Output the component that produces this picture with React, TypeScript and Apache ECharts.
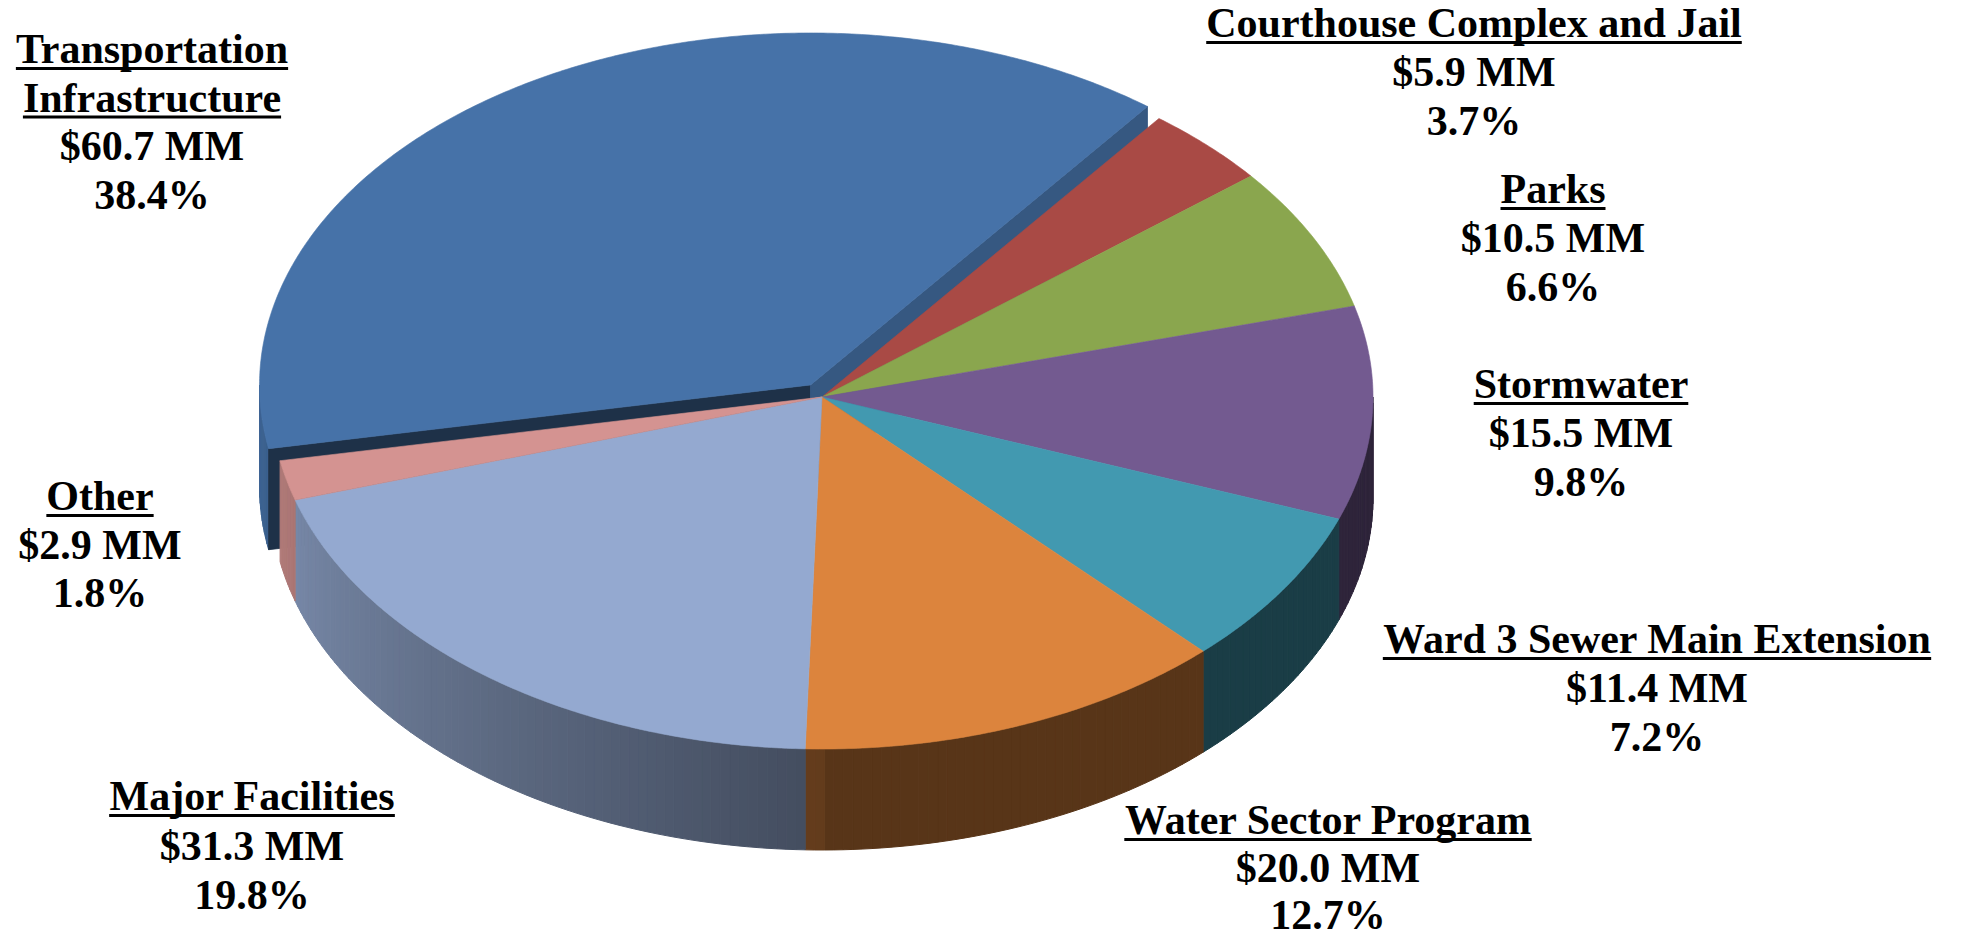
import React, { useEffect, useRef } from 'react';
import * as echarts from 'echarts';

// ---------- data ----------
const CATEGORIES = [
  'Courthouse Complex and Jail',
  'Parks',
  'Stormwater',
  'Ward 3 Sewer Main Extension',
  'Water Sector Program',
  'Major Facilities',
  'Other',
  'Transportation\nInfrastructure',
];
const VALUES_MM = [5.9, 10.5, 15.5, 11.4, 20.0, 31.3, 2.9, 60.7];
const PERCENT_LABELS = ['3.7%', '6.6%', '9.8%', '7.2%', '12.7%', '19.8%', '1.8%', '38.4%'];
const EXPLODED_INDEX = 7;

// ---------- styles ----------
const TOP_COLORS = ['#A94A45', '#8AA64E', '#735A90', '#4299B0', '#DC843D', '#94A9D0', '#D49391', '#4672A8'];
const FONT_FAMILY = '"Liberation Serif", "Times New Roman", serif';
const FONT_SIZE = 42;

// ---------- layout ----------
const W = 1961;
const H = 938;
const CX = 822;
const CY = 397;
const RX = 551;
const RY = 352;
const DEPTH = 101;
const START_DEG = 37.7;
const EXPLODE = 0.04;
// [center x, first baseline, line gap]
const LABEL_POS = [
  [1474, 37, 49],
  [1553, 203, 49],
  [1581, 398, 49],
  [1657, 653, 49],
  [1328, 834, 47.5],
  [252, 810, 49.5],
  [100, 510, 48.5],
  [152, 63, 48.5],
];

const TOTAL = VALUES_MM.reduce((a, b) => a + b, 0);
const CUM: number[] = [];
VALUES_MM.reduce((acc, v, i) => {
  CUM[i] = acc;
  return acc + v;
}, 0);

const rad = (d: number) => (d * Math.PI) / 180;

function pt(theta: number, dz: number, off: number[]) {
  return [CX + RX * Math.sin(rad(theta)) + off[0], CY - RY * Math.cos(rad(theta)) + dz + off[1]];
}

function shade(hex: string, f: number) {
  const n = parseInt(hex.slice(1), 16);
  const r = Math.round(((n >> 16) & 255) * f);
  const g = Math.round(((n >> 8) & 255) * f);
  const b = Math.round((n & 255) * f);
  return `rgb(${r},${g},${b})`;
}

function wallFactor(theta: number) {
  const t = ((theta % 360) + 360) % 360;
  if (t <= 180) return 0.4;
  return 0.45 + 0.36 * Math.min((t - 180) / 75, 1.2);
}

function renderItem(params: any, api: any) {
  const i = params.dataIndex;
  const v = api.value(0);
  const s = START_DEG + (360 * CUM[i]) / TOTAL;
  const e = s + (360 * v) / TOTAL;
  const color = TOP_COLORS[i];
  let off = [0, 0];
  if (i === EXPLODED_INDEX) {
    const mid = (s + e) / 2;
    off = [Math.sin(rad(mid)) * EXPLODE * RX, -Math.cos(rad(mid)) * EXPLODE * RY];
  }
  const children: any[] = [];
  const zWall = i === EXPLODED_INDEX ? 1 : 3;

  // cut faces of the exploded slice
  if (i === EXPLODED_INDEX) {
    const c0 = [CX + off[0], CY + off[1]];
    const c1 = [CX + off[0], CY + off[1] + DEPTH];
    if (-Math.sin(rad(s)) > 0) {
      const f = shade(color, 0.43);
      children.push({
        type: 'polygon',
        z2: 2,
        shape: { points: [c0, pt(s, 0, off), pt(s, DEPTH, off), c1] },
        style: { fill: f, stroke: f, lineWidth: 0.8 },
      });
    }
    if (Math.sin(rad(e)) > 0) {
      const f = shade(color, 0.77);
      children.push({
        type: 'polygon',
        z2: 2,
        shape: { points: [c0, pt(e, 0, off), pt(e, DEPTH, off), c1] },
        style: { fill: f, stroke: f, lineWidth: 0.8 },
      });
    }
  }

  // outer walls (front-facing part only)
  for (const base of [90, 450]) {
    const a = Math.max(s, base);
    const b = Math.min(e, base + 180);
    if (b > a) {
      const n = Math.max(1, Math.ceil((b - a) / 1));
      for (let k = 0; k < n; k++) {
        const t0 = a + ((b - a) * k) / n;
        const t1 = a + ((b - a) * (k + 1)) / n;
        const f = shade(color, wallFactor((t0 + t1) / 2));
        children.push({
          type: 'polygon',
          z2: zWall,
          shape: { points: [pt(t0, 0, off), pt(t1, 0, off), pt(t1, DEPTH, off), pt(t0, DEPTH, off)] },
          style: { fill: f, stroke: f, lineWidth: 1 },
        });
      }
    }
  }

  // top face
  const pts: number[][] = [[CX + off[0], CY + off[1]]];
  const m = Math.max(2, Math.ceil((e - s) / 0.5));
  for (let k = 0; k <= m; k++) {
    pts.push(pt(s + ((e - s) * k) / m, 0, off));
  }
  children.push({
    type: 'polygon',
    z2: 10,
    shape: { points: pts },
    style: { fill: color, stroke: color, lineWidth: 0.6 },
  });

  return { type: 'group', children };
}

function measure(text: string) {
  const ctx = document.createElement('canvas').getContext('2d');
  if (!ctx) return text.length * FONT_SIZE * 0.5;
  ctx.font = `bold ${FONT_SIZE}px ${FONT_FAMILY}`;
  return ctx.measureText(text).width;
}

function buildLabels() {
  const els: any[] = [];
  CATEGORIES.forEach((name, i) => {
    const nameLines = name.split('\n');
    const lines = [...nameLines, `$${VALUES_MM[i].toFixed(1)} MM`, PERCENT_LABELS[i]];
    const [x, y0, gap] = LABEL_POS[i];
    lines.forEach((line, k) => {
      const baseline = y0 + k * gap;
      els.push({
        type: 'text',
        x,
        y: baseline - 14,
        z: 100,
        silent: true,
        style: {
          text: line,
          fill: '#000',
          fontFamily: FONT_FAMILY,
          fontWeight: 'bold',
          fontSize: FONT_SIZE,
          align: 'center',
          verticalAlign: 'middle',
        },
      });
      if (k < nameLines.length) {
        const w = measure(line);
        els.push({
          type: 'line',
          z: 100,
          silent: true,
          shape: { x1: x - w / 2, y1: baseline + 5.5, x2: x + w / 2, y2: baseline + 5.5 },
          style: { stroke: '#000', lineWidth: 3 },
        });
      }
    });
  });
  return els;
}

export default function App() {
  const ref = useRef<HTMLDivElement>(null);
  useEffect(() => {
    document.body.style.margin = '0';
    const chart = echarts.init(ref.current!, null, { renderer: 'svg', width: W, height: H });
    chart.setOption({
      animation: false,
      backgroundColor: '#ffffff',
      series: [
        {
          type: 'custom',
          coordinateSystem: 'none',
          silent: true,
          renderItem,
          data: VALUES_MM.map((v, i) => ({ name: CATEGORIES[i], value: [v] })),
        },
      ],
      graphic: buildLabels(),
    });
    return () => chart.dispose();
  }, []);
  return <div ref={ref} style={{ width: W, height: H }} />;
}
